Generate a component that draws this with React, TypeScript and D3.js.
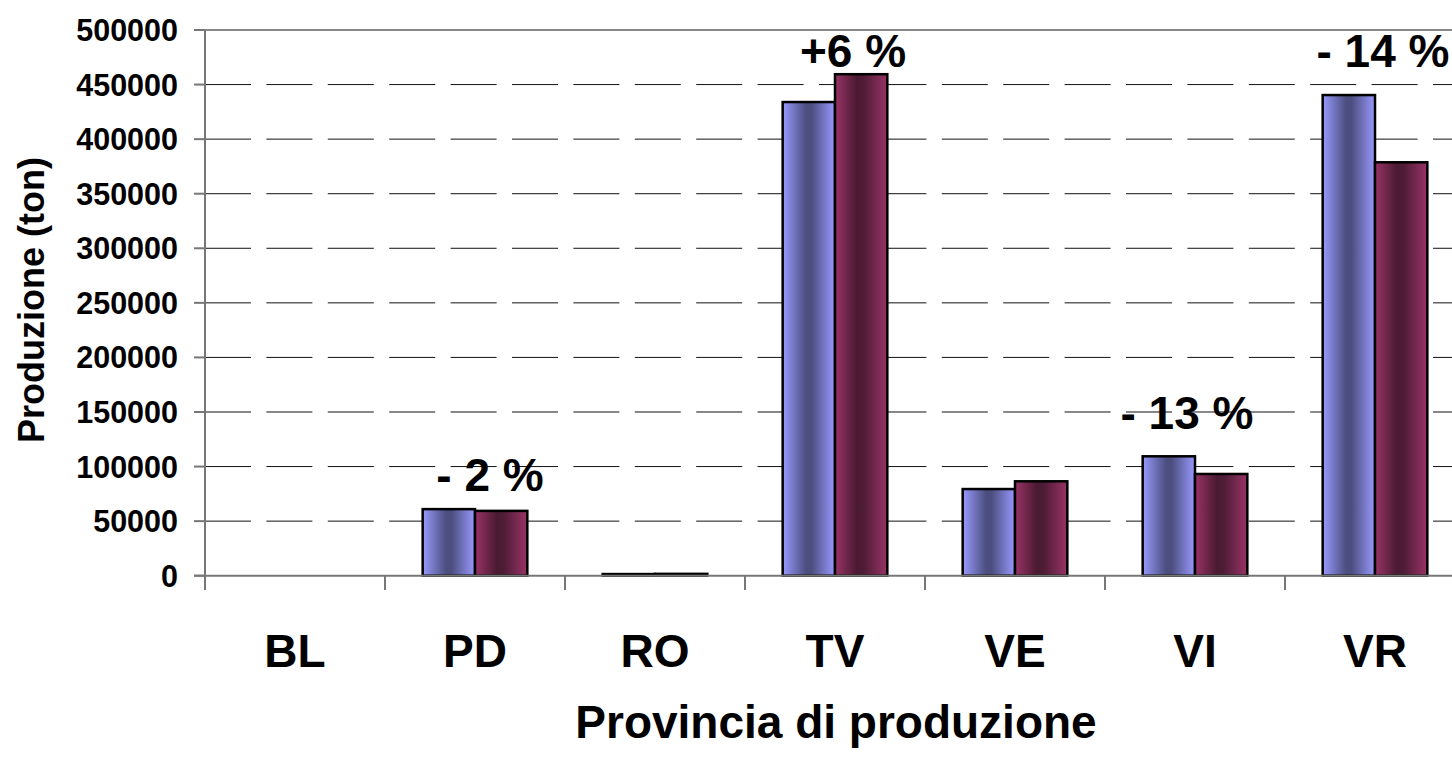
import React from "react";
import * as d3 from "d3";

const categories = ["BL", "PD", "RO", "TV", "VE", "VI", "VR"];
const seriesA = [0, 61000, 1500, 434000, 79400, 109400, 440400];
const seriesB = [0, 59400, 1700, 459500, 86500, 93200, 378800];
const yTicks = [0, 50000, 100000, 150000, 200000, 250000, 300000, 350000, 400000, 450000, 500000];
const annotationCats = ["PD", "TV", "VI", "VR"];
const annotationTexts = ["- 2 %", "+6 %", "- 13 %", "- 14 %"];

const W = 1452;
const H = 757;
const FONT = "'Liberation Sans', Arial, sans-serif";

// label placement (layout only)
const annLayout: Record<string, { dx: number; y: number }> = {
  PD: { dx: 15, y: 490.7 },
  TV: { dx: 18, y: 66.7 },
  VI: { dx: -8, y: 429 },
  VR: { dx: 8, y: 66.7 },
};

export default function App() {
  const x0 = d3.scaleBand<string>().domain(categories).range([205, 1465]).padding(0);
  const x1 = d3.scaleBand<string>().domain(["a", "b"]).range([0, x0.bandwidth()]).paddingInner(0).paddingOuter(0.72);
  const y = d3.scaleLinear().domain([0, 500000]).range([575.7, 30]);
  const left = 205;
  const right = 1465;

  return (
    <svg width={W} height={H} style={{ position: "absolute", left: 0, top: 0, background: "#fff" }} fontFamily={FONT}>
      <defs>
        <linearGradient id="gA" x1="0" y1="0" x2="1" y2="0">
          <stop offset="0" stopColor="#9999FF" />
          <stop offset="0.45" stopColor="#4B4E7E" />
          <stop offset="0.55" stopColor="#4B4E7E" />
          <stop offset="1" stopColor="#9999FF" />
        </linearGradient>
        <linearGradient id="gB" x1="0" y1="0" x2="1" y2="0">
          <stop offset="0" stopColor="#993366" />
          <stop offset="0.42" stopColor="#4A1A32" />
          <stop offset="0.55" stopColor="#4F1C36" />
          <stop offset="1" stopColor="#993366" />
        </linearGradient>
      </defs>

      {/* gridlines */}
      {yTicks.filter((t) => t > 0 && t < 500000).map((t) => (
        <line key={t} x1={left} x2={right} y1={y(t)} y2={y(t)} stroke="#111" strokeWidth={1} strokeDasharray="46 15.4" />
      ))}
      <line x1={left} x2={right} y1={y(500000)} y2={y(500000)} stroke="#888" strokeWidth={2} />

      {/* y ticks & labels */}
      {yTicks.map((t) => (
        <g key={"t" + t}>
          <line x1={194} x2={left} y1={y(t)} y2={y(t)} stroke="#777" strokeWidth={2} />
          <text x={178} y={y(t)} dy="0.36em" textAnchor="end" fontSize={30.5} fontWeight="bold" fill="#000">
            {t}
          </text>
        </g>
      ))}

      {/* bars */}
      {categories.map((c, i) => {
        const bx = x0(c)!;
        const vals = [seriesA[i], seriesB[i]];
        return vals.map((v, j) => {
          if (v <= 0) return null;
          const key = j === 0 ? "a" : "b";
          const yy = y(v);
          return (
            <rect
              key={c + key}
              x={bx + x1(key)!}
              y={yy}
              width={x1.bandwidth()}
              height={y(0) - yy}
              fill={j === 0 ? "url(#gA)" : "url(#gB)"}
              stroke="#000"
              strokeWidth={2.5}
            />
          );
        });
      })}

      {/* axes */}
      <line x1={left} x2={left} y1={y(500000)} y2={590} stroke="#777" strokeWidth={2} />
      <line x1={194} x2={right} y1={y(0)} y2={y(0)} stroke="#777" strokeWidth={2} />
      {categories.map((c) => (
        <line key={"ct" + c} x1={x0(c)! + x0.bandwidth()} x2={x0(c)! + x0.bandwidth()} y1={y(0)} y2={590} stroke="#777" strokeWidth={2} />
      ))}

      {/* category labels */}
      {categories.map((c) => (
        <text key={"cl" + c} x={x0(c)! + x0.bandwidth() / 2} y={666.7} textAnchor="middle" fontSize={46} fontWeight="bold" fill="#000">
          {c}
        </text>
      ))}

      {/* annotations */}
      {annotationCats.map((c, i) => (
        <text key={"an" + c} x={x0(c)! + x0.bandwidth() / 2 + annLayout[c].dx} y={annLayout[c].y} textAnchor="middle" fontSize={46} fontWeight="bold" fill="#000">
          {annotationTexts[i]}
        </text>
      ))}

      {/* axis titles */}
      <text x={836} y={738} textAnchor="middle" fontSize={46} fontWeight="bold" fill="#000">
        Provincia di produzione
      </text>
      <text transform={`translate(44, 300) rotate(-90)`} textAnchor="middle" fontSize={36} fontWeight="bold" fill="#000">
        Produzione (ton)
      </text>
    </svg>
  );
}
